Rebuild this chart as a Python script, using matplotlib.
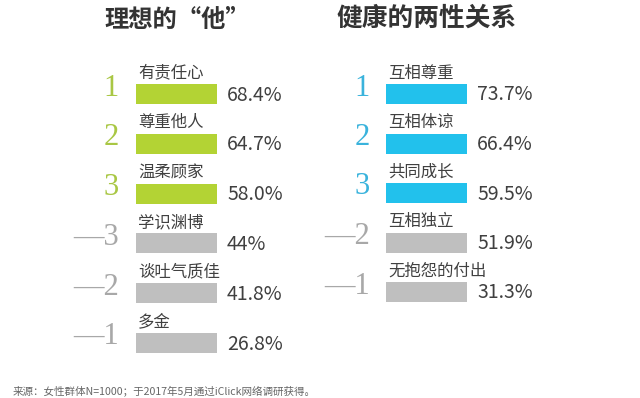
import matplotlib
matplotlib.use("Agg")
import matplotlib.pyplot as plt

plt.rcParams['font.family'] = ['Noto Sans CJK SC', 'DejaVu Sans']

left_title = "理想的“他”"
left_labels = ["有责任心", "尊重他人", "温柔顾家", "学识渊博", "谈吐气质佳", "多金"]
left_values = ["68.4%", "64.7%", "58.0%", "44%", "41.8%", "26.8%"]
left_ranks = ["1", "2", "3", "—3", "—2", "—1"]
left_top = [True, True, True, False, False, False]

right_title = "健康的两性关系"
right_labels = ["互相尊重", "互相体谅", "共同成长", "互相独立", "无抱怨的付出"]
right_values = ["73.7%", "66.4%", "59.5%", "51.9%", "31.3%"]
right_ranks = ["1", "2", "3", "—2", "—1"]
right_top = [True, True, True, False, False]

footer = "来源：女性群体N=1000；于2017年5月通过iClick网络调研获得。"

GREEN = "#b3d334"
GREEN_NUM = "#a9c744"
BLUE = "#22c1ec"
BLUE_NUM = "#3ab3dc"
GRAY = "#bfbfbf"
GRAY_NUM = "#a8a8a8"
TXT = "#404040"

fig = plt.figure(figsize=(6.4, 3.98), dpi=100)
fig.patch.set_facecolor("white")


def panel(rect, x0, spacing, labels, values, ranks, top, color, numcolor, bar_left, rank_right):
    ax = fig.add_axes(rect)
    ax.set_xlim(x0, x0 + 320)
    first = 94
    ax.set_ylim((398 - first) / spacing, -first / spacing)
    ax.axis("off")
    n = len(labels)
    rows = list(range(n))
    colors = [color if t else GRAY for t in top]
    ax.barh(rows, [81] * n, left=bar_left, height=20 / spacing, color=colors)
    for i in rows:
        ax.text(bar_left + 2, i - 21 / spacing, labels[i], fontsize=11.8, color=TXT,
                ha="left", va="center")
        ax.text(bar_left + 91, i + 1 / spacing, values[i], fontsize=14, color=TXT,
                ha="left", va="center")
        ax.text(rank_right, i - 6 / spacing, ranks[i], fontsize=22,
                family=["Liberation Serif", "DejaVu Serif"],
                color=numcolor if top[i] else GRAY_NUM, ha="right", va="center")
    return ax


panel([0, 0, 0.5, 1], 0, 49.8, left_labels, left_values, left_ranks, left_top,
      GREEN, GREEN_NUM, 136, 119)
panel([0.5, 0, 0.5, 1], 320, 49.5, right_labels, right_values, right_ranks, right_top,
      BLUE, BLUE_NUM, 386, 370)

fig.text(177 / 640, 1 - 20 / 398, left_title, fontsize=17.5, fontweight="bold",
         color="#333333", ha="center", va="center")
fig.text(427 / 640, 1 - 18 / 398, right_title, fontsize=18.5, fontweight="bold",
         color="#333333", ha="center", va="center")
fig.text(13 / 640, 1 - 391 / 398, footer, fontsize=7.6, color="#666666",
         ha="left", va="center")

fig.savefig("out.png", dpi=100, facecolor="white")
